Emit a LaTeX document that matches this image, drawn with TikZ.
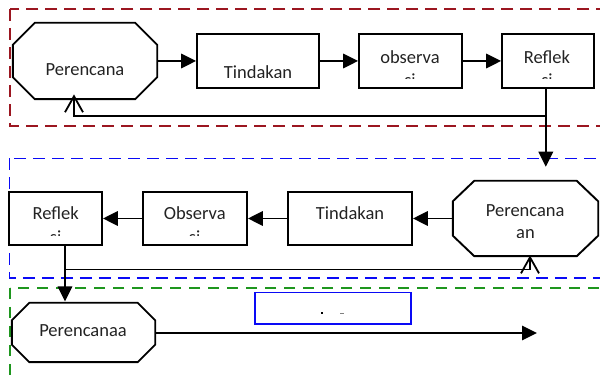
\documentclass[tikz,border=0pt]{standalone}
\usepackage{fontspec}
\setmainfont{Carlito}
\usetikzlibrary{arrows.meta}

\definecolor{framered}{RGB}{155,22,32}
\definecolor{frameblue}{RGB}{10,10,245}
\definecolor{framegreen}{RGB}{30,150,30}
\definecolor{inkgray}{RGB}{35,35,35}

% octagon drawn round an invisible rectangular node: #2 horizontal cut, #3 vertical cut
\newcommand\drawoct[3]{%
  \draw[boxline, fill=white]
    ([xshift=#2]#1.north west) -- ([xshift=-#2]#1.north east)
    -- ([yshift=-#3]#1.north east) -- ([yshift=#3]#1.south east)
    -- ([xshift=-#2]#1.south east) -- ([xshift=#2]#1.south west)
    -- ([yshift=#3]#1.south west) -- ([yshift=-#3]#1.north west) -- cycle;}

\tikzset{
  boxline/.style={draw=black, line width=1.9pt},
  stepbox/.style={boxline, fill=white, rectangle, inner sep=0pt},
  octbase/.style={rectangle, draw=none, inner sep=0pt},
  frame/.style={line width=1.6pt, dash pattern=on 12pt off 7pt},
  conn/.style={line width=1.8pt, -{Triangle[length=15pt,width=14.5pt]}},
  back/.style={line width=1.8pt, -{Straight Barb[length=16pt,width=18pt]}},
  lbl/.style={anchor=base, inner sep=0pt, text=inkgray,
    font=\fontsize{18.5}{22}\selectfont},
}

\begin{document}
\begin{tikzpicture}[x=1pt,y=-1pt]
\useasboundingbox (0,0) rectangle (600,379);
\clip (0,0) rectangle (600,379);

% dashed cycle frames
\draw[framered, frame]   (10,9.3)   rectangle (620,126);
\draw[frameblue, frame]  (9.3,158.5) rectangle (620,278);
\draw[framegreen, frame, dash pattern=on 11pt off 8pt] (10,288) rectangle (620,400);

% ---- first cycle ----
\node[octbase, minimum width=144pt, minimum height=76pt] (o1) at (85,61) {};
\drawoct{o1}{22pt}{22pt}
\node[stepbox, minimum width=122pt, minimum height=54pt] (t1) at (258,61) {};
\node[stepbox, minimum width=103pt, minimum height=54pt] (ob1) at (410.5,61) {};
\node[stepbox, minimum width=92pt, minimum height=54pt] (r1) at (548,61) {};

\node[lbl] (o1txt) at (85,76) {Perencana};
\begin{scope}
  \clip (197,34) rectangle (319,77.5);
  \node[lbl] (t1txt) at (258,79) {Tindakan};
\end{scope}
\node[lbl] (ob1txt) at (410,63.3) {observa};
\begin{scope}
  \clip (359,34) rectangle (462,78.3);
  \node[lbl] (ob1txtb) at (410,86.8) {si};
\end{scope}
\node[lbl] (r1txt) at (547,63.3) {Reflek};
\begin{scope}
  \clip (502,34) rectangle (594,78.3);
  \node[lbl] (r1txtb) at (547,86.8) {si};
\end{scope}

% ---- second cycle ----
\node[octbase, minimum width=145pt, minimum height=75pt] (o2) at (525.5,218.5) {};
\drawoct{o2}{21.5pt}{20.5pt}
\node[stepbox, minimum width=124pt, minimum height=53pt] (t2) at (350,218.5) {};
\node[stepbox, minimum width=104pt, minimum height=53pt] (ob2) at (195,218.5) {};
\node[stepbox, minimum width=93pt, minimum height=53pt] (r2) at (55.5,218.5) {};

\node[lbl] (o2txt) at (525.2,216.7) {Perencana};
\begin{scope}
  \clip (453,181) rectangle (598,237.5);
  \node[lbl] (o2txtb) at (525.5,239) {an};
\end{scope}
\node[lbl] (t2txt) at (350,220) {Tindakan};
\node[lbl] (ob2txt) at (194.7,220) {Observa};
\begin{scope}
  \clip (143,192) rectangle (247,235.5);
  \node[lbl] (ob2txtb) at (194.7,243.8) {si};
\end{scope}
\node[lbl] (r2txt) at (55.7,220) {Reflek};
\begin{scope}
  \clip (9,192) rectangle (102,235.5);
  \node[lbl] (r2txtb) at (55.7,243.8) {si};
\end{scope}

% ---- third cycle ----
\node[octbase, minimum width=143pt, minimum height=59pt] (o3) at (83.5,332.5) {};
\drawoct{o3}{17.5pt}{17.5pt}
\node[lbl] (o3txt) at (83,336.7) {Perencanaa};
\node[rectangle, draw=frameblue, line width=1.6pt, minimum width=156pt,
      minimum height=31.7pt, inner sep=0pt] (nb) at (333,308.2) {};
\fill[black] (321,311.6) rectangle (323,313.6);
\draw[gray, line width=0.6pt] (340,313.3) -- (344,313.3);

% ---- connectors ----
\coordinate (d1) at (545.8,166.7);
\coordinate (j1) at (545.8,116);
\coordinate (f1) at (74,94.4);
\coordinate (j2) at (65,269.5);
\coordinate (f2) at (530,255.5);
\coordinate (d2) at (65,301.5);
\coordinate (e3) at (537,333);

\draw[conn] (o1.east) -- (t1.west);
\draw[conn] (t1.east) -- (ob1.west);
\draw[conn] (ob1.east) -- (r1.west);
\draw[conn] (r1.south -| d1) -- (d1);
\draw[back] (j1) -| (f1);

\draw[conn] (o2.west |- t2) -- (t2.east);
\draw[conn] (t2.west) -- (ob2.east);
\draw[conn] (ob2.west) -- (r2.east);
\draw[conn] (r2.south -| d2) -- (d2);
\draw[back] (j2) -| (f2);

\draw[conn] (o3.east |- e3) -- (e3);
\end{tikzpicture}
\end{document}
